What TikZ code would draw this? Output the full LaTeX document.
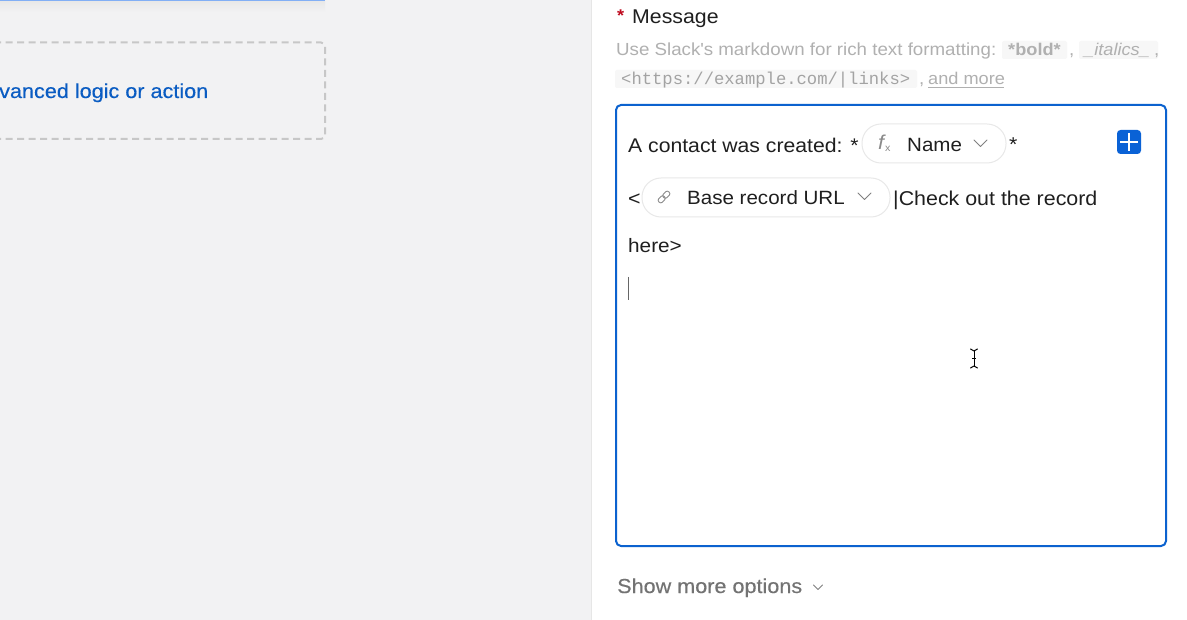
\documentclass[tikz,border=0pt]{standalone}
\usepackage{fontspec}
\setmainfont[FakeStretch=1.07]{Liberation Sans}
\setmonofont{Liberation Mono}
\newfontfamily\medfont[FakeStretch=1.07,FakeBold=0.35]{Liberation Sans}
\usetikzlibrary{positioning}
\definecolor{panelgray}{HTML}{F2F2F3}
\definecolor{dividergray}{HTML}{E6E6E6}
\definecolor{hintgray}{HTML}{B0B0B0}
\definecolor{chipgray}{HTML}{F7F7F7}
\definecolor{pillgray}{HTML}{E8E8E8}
\definecolor{iconchar}{HTML}{8A8A8A}
\definecolor{editorblue}{HTML}{0B62CF}
\definecolor{addblue}{HTML}{0A62D6}
\definecolor{linkblue}{HTML}{0A5CC2}
\tikzset{
  lbl/.style={inner sep=0pt,anchor=base west,text=black!88},
  body/.style={lbl,font=\fontsize{20}{24}\selectfont},
  pilltext/.style={lbl,font=\fontsize{19.2}{24}\selectfont},
  hint/.style={lbl,text=hintgray,font=\fontsize{17.5}{20}\selectfont},
  chipfill/.style={fill=chipgray,rounded corners=2pt},
  pill/.style={draw=pillgray,line width=1pt,fill=white,rounded corners=19pt},
  chev/.style={draw=black!50,line width=0.9pt,line cap=round,line join=round},
}
\begin{document}
\begin{tikzpicture}[line cap=round,line join=round,x=1pt,y=-1pt]
\useasboundingbox (0,0) rectangle (1187,620);
\fill [panelgray] (0,0) rectangle (591,620);
\fill [white] (591,0) rectangle (1187,620);
\draw [dividergray,line width=1pt] (591,0)--(591,620);
% left side
\shade [top color=black!9,bottom color=panelgray] (0,1) rectangle (325,12);
\draw [color={rgb,255:red,130;green,175;blue,245},line width=1.5pt,line cap=butt] (0,0.5)--(325,0.5);
\draw [black!22,line width=2pt,dash pattern=on 7pt off 4.5pt,line cap=butt,rounded corners=4pt] (-6,42.5)--(325,42.5)--(325,139)--(-6,139);
\node [lbl,text=linkblue,font=\medfont\fontsize{20.2}{24}\selectfont] (addlogic) at (-1,98) {vanced logic or action};
% field header
\node [lbl,text={rgb,255:red,190;green,10;blue,30},font=\bfseries\fontsize{17}{20}\selectfont] (star) at (617,22) {*};
\node [lbl,font=\fontsize{19.9}{24}\selectfont] (msg) at (632,24) {Message};
\fill [chipfill] (1002,41) rectangle (1067,59);
\fill [chipfill] (1079,41) rectangle (1158,59);
\fill [chipfill] (615,70) rectangle (917,88);
\node [hint] (hintline) at (616,56) {Use Slack\textquotesingle s markdown for rich text formatting:};
\node [hint,font=\bfseries\fontsize{17}{20}\selectfont] (boldchip) at (1008,56) {*bold*};
\node [hint] (commaa) at (1069,56) {,};
\node [hint,font=\itshape\fontsize{17}{20}\selectfont] (italchip) at (1084,56) {\_italics\_};
\node [hint] (commab) at (1154,56) {,};
\node [hint,text=black!36,font=\ttfamily\fontsize{17.2}{20}\selectfont] (linkchip) at (621,85) {<https://example.com/|links>};
\node [hint] (commac) at (919,85) {,};
\node [hint,font=\fontsize{17}{20}\selectfont] (andmore) at (928,85) {and more};
\draw [hintgray,line width=0.8pt,line cap=butt] (928,87.5)--(1004,87.5);
% editor
\draw [editorblue,fill=white,line width=2pt,rounded corners=5pt] (616,105) rectangle (1166,546);
\node [lbl,font=\fontsize{19.8}{24}\selectfont] (lineone) at (628,153) {A contact was created: *};
\draw [pill] (862,124) rectangle (1006,163);
\node [lbl,text=iconchar,font=\itshape\fontsize{20}{20}\selectfont] (fxf) at (878,150) {f};
\node [lbl,text=iconchar,font=\fontsize{10}{10}\selectfont] (fxx) at (885,152) {x};
\node [pilltext] (namelbl) at (907,152) {Name};
\draw [chev] (974,140)--(980.5,146.5)--(987,140);
\node [body] (stara) at (1009,152) {*};
\fill [addblue,rounded corners=3.5pt] (1117,130) rectangle (1141,154);
\draw [white,line width=1.6pt,line cap=butt] (1129,133)--(1129,151);
\draw [white,line width=1.6pt,line cap=butt] (1120,142)--(1138,142);
\node [body] (lt) at (628,206) {<};
\draw [pill] (642,178) rectangle (890,217);
\begin{scope}[shift={(664,197)},rotate=45]
\draw [iconchar,line width=0.9pt,rounded corners=2pt] (-7,-2.5) rectangle (0.5,2.5);
\draw [iconchar,line width=0.9pt,rounded corners=2pt] (-0.5,-2.5) rectangle (7,2.5);
\end{scope}
\node [pilltext] (urllbl) at (687,205) {Base record URL};
\draw [chev] (858,193)--(864.5,199.5)--(871,193);
\node [body] (linetwo) at (893,206) {|Check out the record};
\node [pilltext,font=\fontsize{19.4}{24}\selectfont] (linethree) at (628,253) {here>};
\draw [black!60,line width=1pt,line cap=butt] (628.5,277)--(628.5,300);
% pointer
\draw [black,line width=1pt,line cap=butt] (974,350)--(974,367);
\draw [black,line width=1pt] (970.5,349)--(974,351)--(977.5,349);
\draw [black,line width=1pt] (970.5,368)--(974,366)--(977.5,368);
\draw [black,line width=1pt,line cap=butt] (972,358.5)--(976,358.5);
% footer
\node [lbl,text=black!55,font=\medfont\fontsize{20.2}{24}\selectfont] (showmore) at (617,593) {Show more options};
\draw [chev] (813.5,585)--(818,589.5)--(822.5,585);
\end{tikzpicture}
\end{document}
